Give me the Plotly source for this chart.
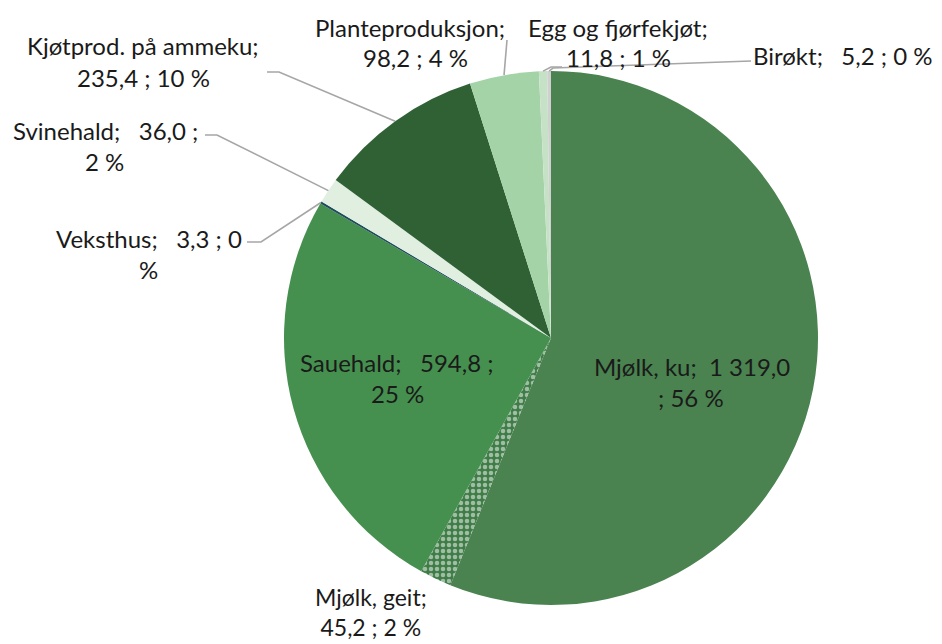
import math
import plotly.graph_objects as go

# ---- data ----
categories = ["Mjølk, ku", "Mjølk, geit", "Sauehald", "Veksthus", "Svinehald",
              "Kjøtprod. på ammeku", "Planteproduksjon", "Egg og fjørfekjøt", "Birøkt"]
values = [1319.0, 45.2, 594.8, 3.3, 36.0, 235.4, 98.2, 11.8, 5.2]
colors = ["#4A8350", "#3F7C47", "#46904F", "#1E4D5C", "#E1EFE1",
          "#2F6135", "#A4D3A7", "#C6E2C6", "#D0D0D0"]
patterns = ["", ".", "", "", "", "", "", "", ""]

OFF = 8                      # page body margin of the html page
W, H = 942 - OFF, 644 - OFF  # figure size
CX, CY, R = 551, 338, 267    # pie centre / radius in screen pixels

NB = "\u00a0"

def fmt(v):
    return f"{v:,.1f}".replace(",", NB).replace(".", ",")

total = sum(values)
pct = [round(v / total * 100) for v in values]
sp2 = NB + " "
sp3 = NB + NB + " "

FONT = "Lato, 'Open Sans', sans-serif"

# label lines per category, with screen-pixel centre positions
label_lines = {
    "Mjølk, ku": [(f"Mjølk, ku;{sp2}{fmt(values[0])}", 692, 366), (f"; {pct[0]} %", 691, 397)],
    "Sauehald": [(f"Sauehald;{sp3}{fmt(values[2])} ;", 397, 362), (f"{pct[2]} %", 397, 393)],
    "Veksthus": [(f"Veksthus;{sp3}{fmt(values[3])} ; {pct[3]}", 149, 238), ("%", 148, 269)],
    "Svinehald": [(f"Svinehald;{sp3}{fmt(values[4])} ;", 105, 130), (f"{pct[4]} %", 104, 161)],
    "Kjøtprod. på ammeku": [("Kjøtprod. på ammeku;", 143, 45), (f"{fmt(values[5])} ; {pct[5]} %", 143, 77)],
    "Planteproduksjon": [("Planteproduksjon;", 410, 27), (f"{fmt(values[6])} ; {pct[6]} %", 415, 58)],
    "Egg og fjørfekjøt": [("Egg og fjørfekjøt;", 618, 27), (f"{fmt(values[7])} ; {pct[7]} %", 618, 57)],
    "Birøkt": [(f"Birøkt;{sp3}{fmt(values[8])} ; {pct[8]} %", 843, 55)],
}

# leader line waypoints (screen pixels); each ends at the slice mid-edge computed from data
leader_pts = {
    "Kjøtprod. på ammeku": [(267, 72), (279, 72)],
    "Svinehald": [(205, 135), (217, 135)],
    "Veksthus": [(247, 242), (261, 242)],
    "Planteproduksjon": [(507, 40)],
    "Egg og fjørfekjøt": [(562, 67), (551, 67)],
    "Birøkt": [(751, 61), (553, 68)],
}


def px2paper(x, y):
    return (x - OFF) / W, 1 - (y - OFF) / H


x0, y0 = px2paper(CX - R, CY + R)
x1, y1 = px2paper(CX + R, CY - R)

fig = go.Figure(go.Pie(
    labels=categories, values=values, sort=False, direction="clockwise",
    rotation=0, textinfo="none", hoverinfo="label+value+percent",
    marker=dict(colors=colors, line=dict(width=0),
                pattern=dict(shape=patterns, fillmode="overlay", fgcolor="white",
                             size=6, solidity=0.45)),
    domain=dict(x=[x0, x1], y=[y0, y1]),
    showlegend=False,
))

annotations = []
for cat, lines in label_lines.items():
    for txt, x, y in lines:
        px_, py_ = px2paper(x, y)
        annotations.append(dict(x=px_, y=py_, xref="paper", yref="paper", text=txt,
                                showarrow=False, xanchor="center", yanchor="middle",
                                font=dict(family=FONT, size=24, color="#1A1A1A")))

# Mjølk, geit label at the bottom edge (two lines in one text block)
gx, gy = px2paper(371, 643)
annotations.append(dict(x=gx, y=gy, xref="paper", yref="paper",
                        text=f"Mjølk, geit;<br>{fmt(values[1])} ; {pct[1]} %",
                        showarrow=False, xanchor="center", yanchor="bottom",
                        font=dict(family=FONT, size=23, color="#1A1A1A")))

shapes = []
cum = 0.0
mids = {}
for c, v in zip(categories, values):
    a = 2 * math.pi * (cum + v / 2) / total
    mids[c] = (CX + R * math.sin(a), CY - R * math.cos(a))
    cum += v

for cat, pts in leader_pts.items():
    d = ""
    for i, (x, y) in enumerate(pts + [mids[cat]]):
        px_, py_ = px2paper(x, y)
        d += ("M" if i == 0 else "L") + f"{px_},{py_} "
    shapes.append(dict(type="path", path=d.strip(), xref="paper", yref="paper",
                       line=dict(color="#A6A6A6", width=1.6)))

fig.update_layout(width=W, height=H, margin=dict(l=0, r=0, t=0, b=0),
                  paper_bgcolor="white", plot_bgcolor="white",
                  annotations=annotations, shapes=shapes)

fig.write_html("out.html")
